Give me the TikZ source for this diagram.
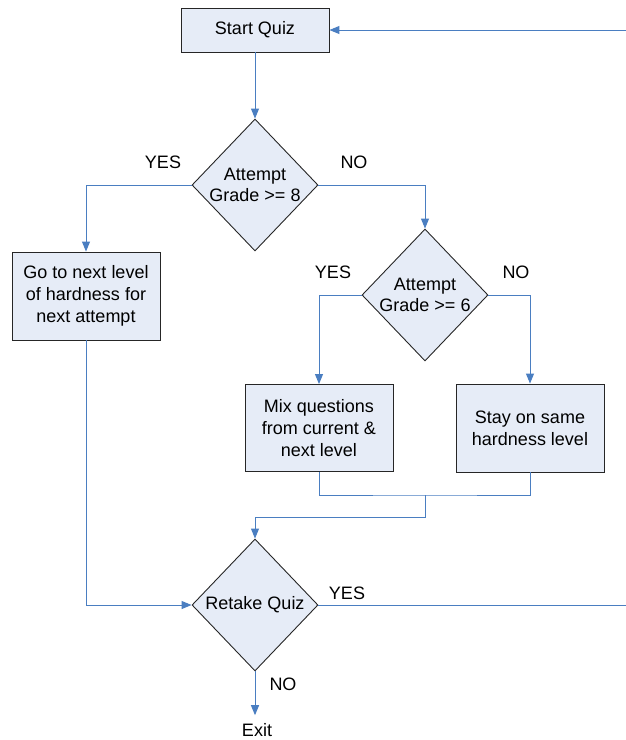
\documentclass[tikz,border=0pt]{standalone}
\usepackage{fontspec}
\setmainfont{Liberation Sans}
\usetikzlibrary{shapes.geometric,arrows.meta}

\definecolor{boxfill}{RGB}{230,236,247}
\definecolor{flowblue}{RGB}{74,126,193}

\begin{document}
\begin{tikzpicture}[
    x=1pt, y=-1pt,
    block/.style={draw=black!85, rectangle, line width=0.9pt, minimum width=148pt, align=center, fill=boxfill, font=\fontsize{18}{21.7}\selectfont},
    decision/.style={draw=black!85, diamond, line width=0.9pt, minimum width=126pt, minimum height=132pt, inner sep=-6pt, align=center, fill=boxfill, font=\fontsize{18}{21.7}\selectfont},
    edge/.style={-{Triangle[length=10pt,width=8pt]}, line width=1pt, draw=flowblue},
    link/.style={line width=1pt, draw=flowblue},
    label/.style={font=\fontsize{18}{21.7}\selectfont},
]
\useasboundingbox (0,0) rectangle (625,740);

% Start
\node[block, minimum height=44pt] (start) at (255,30) {Start Quiz};

% First check
\node[decision] (grade8) at (255,185) {Attempt\\Grade >= 8};
\node[label] (yes8) at (163,162) {YES};
\node[label] (no8) at (354,162) {NO};

% Harder level
\node[block, minimum height=88pt] (levelup) at (86,296) {Go to next level\\of hardness for\\next attempt};

% Second check
\node[decision] (grade6) at (425,295) {Attempt\\Grade >= 6};
\node[label] (yes6) at (333,272) {YES};
\node[label] (no6) at (516,272) {NO};

% Mixed and same level
\node[block, minimum height=87pt] (mix) at (319,428) {Mix questions\\from current \&\\next level};
\node[block, minimum height=88pt] (stay) at (530,428) {Stay on same\\hardness level};

% Retake
\node[decision] (retake) at (255,605) {Retake Quiz};
\node[label] (yesretake) at (347,593) {YES};
\node[label] (noretake) at (283,684) {NO};
\node[label, inner sep=1pt] (exit) at (257,730) {Exit};

\coordinate (merge) at (425,495);
\coordinate (mergedown) at (425,517);
\coordinate (loopdown) at (627,605);
\coordinate (loopup) at (627,30);

\draw[edge] (start) -- (grade8);
\draw[edge] (grade8.west) -| (levelup.north);
\draw[edge] (grade8.east) -| (grade6.north);
\draw[edge] (grade6.west) -| (mix.north);
\draw[edge] (grade6.east) -| (stay.north);
\draw[link] (mix.south) |- (merge) -| (stay.south);
\draw[edge] (merge) -- (mergedown) -| (retake.north);
\draw[edge] (levelup.south) |- (retake.west);
\draw[edge] (retake.east) -- (loopdown) -- (loopup) -- (start.east);
\draw[edge, shorten >=7pt] (retake.south) -- (retake.south |- exit.north);

\end{tikzpicture}
\end{document}
